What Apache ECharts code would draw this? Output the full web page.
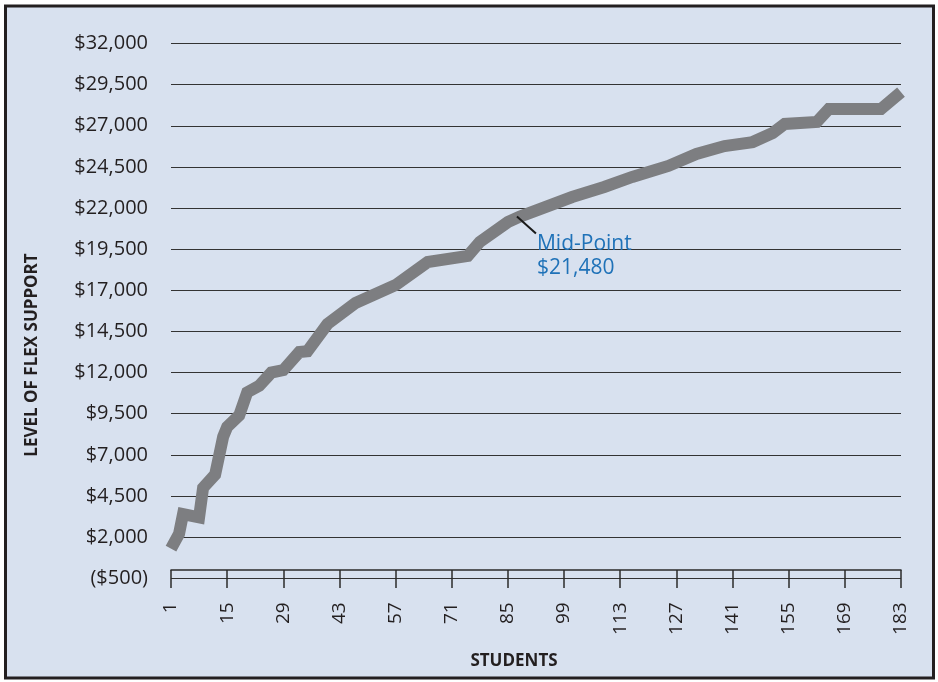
<!DOCTYPE html>
<html>
<head>
<meta charset="utf-8">
<style>
  html, body { margin: 0; padding: 0; background: #ffffff; }
  #chart { width: 938px; height: 682px; }
</style>
<script src="https://cdn.jsdelivr.net/npm/echarts@6.0.0/dist/echarts.min.js"></script>
</head>
<body>
<div id="chart"></div>
<script>
// Students ranked by level of flex support (knots of the cumulative curve)
var students = [1, 3, 4, 8, 9, 12, 14, 15, 18, 20, 23, 26, 29, 33, 35, 40, 47, 57, 65, 75, 78, 85, 88, 101, 109, 116, 125, 132, 139, 146, 151, 154, 162, 165, 178, 183];
var support = [1300, 2200, 3400, 3200, 5000, 5800, 8100, 8700, 9400, 10800, 11200, 12000, 12150, 13250, 13300, 14950, 16230, 17320, 18720, 19090, 19940, 21150, 21480, 22670, 23280, 23890, 24560, 25290, 25770, 26010, 26560, 27110, 27230, 28020, 28020, 29050];

// Median student and the support level at that point
var midStudent = [88];
var midValue = [21480];

// Axis ranges and tick steps
var xMin = 1, xMax = 183, xStep = 14;
var yMin = -500, yMax = 32000, yStep = 2500;

var fontFamily = '"Open Sans", "Noto Sans", sans-serif';

function money(v) {
  var s = '$' + Math.abs(v).toLocaleString('en-US');
  return v < 0 ? '(' + s + ')' : s;
}

var lineData = students.map(function (s, i) { return [s, support[i]]; });
var midData = midStudent.map(function (s, i) { return [s, midValue[i]]; });

var chart = echarts.init(document.getElementById('chart'), null, { renderer: 'canvas' });

chart.setOption({
  backgroundColor: '#ffffff',
  animation: false,
  graphic: [
    {
      type: 'rect',
      z: -10,
      shape: { x: 5.5, y: 6, width: 928, height: 672 },
      style: { fill: '#d8e1ef', stroke: '#231f20', lineWidth: 3 }
    },
    {
      type: 'text',
      x: 32, y: 355,
      rotation: Math.PI / 2,
      style: {
        text: 'LEVEL OF FLEX SUPPORT',
        fill: '#231f20',
        font: 'bold 17px ' + fontFamily,
        align: 'center',
        verticalAlign: 'middle'
      }
    },
    {
      type: 'text',
      x: 514, y: 661,
      style: {
        text: 'STUDENTS',
        fill: '#231f20',
        font: 'bold 17px ' + fontFamily,
        align: 'center',
        verticalAlign: 'middle'
      }
    }
  ],
  grid: { left: 171, right: 37, top: 43.5, bottom: 103.7, containLabel: false },
  xAxis: {
    type: 'value',
    min: xMin, max: xMax, interval: xStep,
    axisLine: { show: true, lineStyle: { color: '#2b2b2b', width: 1.5 } },
    axisTick: { show: true, length: 18, lineStyle: { color: '#2b2b2b', width: 1.5 } },
    axisLabel: {
      rotate: 90, margin: 24, color: '#231f20', fontSize: 19, fontFamily: fontFamily,
      showMinLabel: true, showMaxLabel: true, hideOverlap: false
    },
    splitLine: { show: false }
  },
  yAxis: {
    type: 'value',
    min: yMin, max: yMax, interval: yStep,
    axisLine: { show: false },
    axisTick: { show: false },
    axisLabel: {
      margin: 23, color: '#231f20', fontSize: 20, fontFamily: fontFamily,
      formatter: money, showMinLabel: true, showMaxLabel: true
    },
    splitLine: { show: true, lineStyle: { color: '#333333', width: 1 } }
  },
  series: [
    {
      type: 'line',
      data: lineData,
      showSymbol: false,
      symbol: 'none',
      smooth: false,
      lineStyle: { color: '#7d7e81', width: 12, join: 'miter', cap: 'butt' },
      z: 3
    },
    {
      type: 'custom',
      data: midData,
      z: 4,
      renderItem: function (params, api) {
        var v = api.value(1);
        var p = api.coord([api.value(0), v]);
        return {
          type: 'group',
          children: [
            {
              type: 'line',
              shape: { x1: p[0] - 3, y1: p[1], x2: p[0] + 16, y2: p[1] + 17 },
              style: { stroke: '#1a1a1a', lineWidth: 2 }
            },
            {
              type: 'text',
              x: p[0] + 17, y: p[1] + 15,
              style: {
                text: 'Mid-Point\n' + money(v),
                fill: '#1f72b8',
                font: '21px ' + fontFamily,
                lineHeight: 24,
                align: 'left',
                verticalAlign: 'top'
              }
            }
          ]
        };
      }
    }
  ]
});
</script>
</body>
</html>
